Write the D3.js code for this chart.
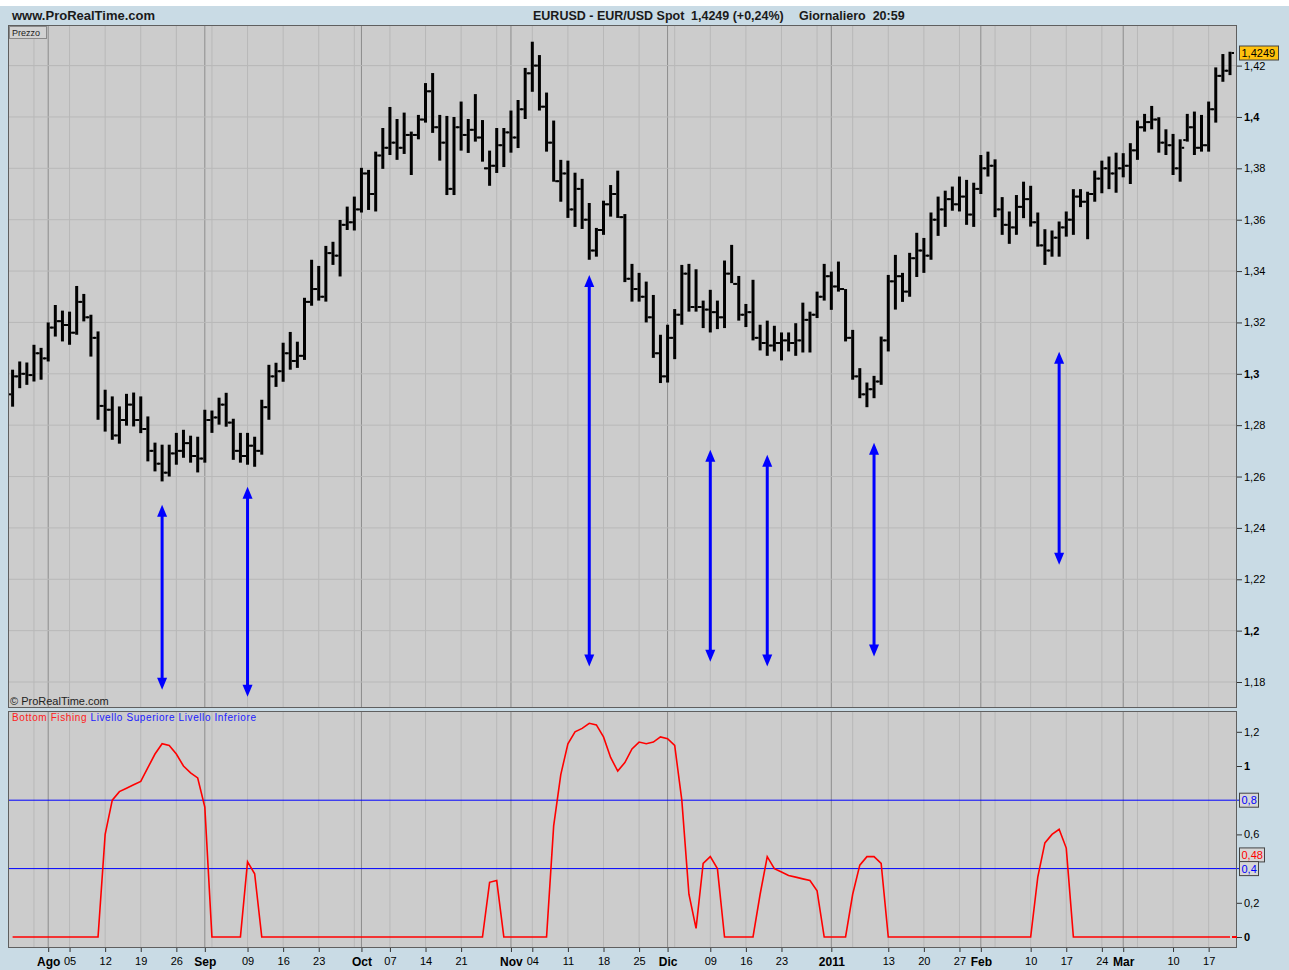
<!DOCTYPE html>
<html>
<head>
<meta charset="utf-8">
<script src="https://cdnjs.cloudflare.com/ajax/libs/d3/7.8.5/d3.min.js"></script>
<style>
  body { margin: 0; background: #c9dbe5; }
  svg { display: block; }
</style>
</head>
<body>
<script>
// EURUSD daily bars, 26 Jul 2010 -> 22 Mar 2011 (one per weekday)
const firstDay = "2010-07-26", lastDay = "2011-03-22";

const openP = [
1.2920,1.2990,1.3000,1.2995,1.3080,1.3060,1.3180,1.3205,1.3190,1.3160,
1.3280,1.3220,1.3140,1.2875,1.2860,1.2760,1.2820,1.2880,1.2820,1.2785,
1.2700,1.2650,1.2615,1.2690,1.2700,1.2730,1.2680,1.2670,1.2820,1.2830,
1.2880,1.2810,1.2700,1.2680,1.2720,1.2700,1.2870,1.2990,1.3010,1.3080,
1.3050,1.3070,1.3280,1.3330,1.3300,1.3470,1.3460,1.3580,1.3590,1.3640,
1.3780,1.3700,1.3850,1.3880,1.3900,1.3880,1.3930,1.3930,1.3990,1.4100,
1.3960,1.3900,1.3720,1.3960,1.3930,1.3950,1.3920,1.3800,1.3810,1.3890,
1.3940,1.3920,1.4030,1.4170,1.4200,1.4040,1.3900,1.3750,1.3780,1.3640,
1.3720,1.3600,1.3480,1.3560,1.3660,1.3700,1.3610,1.3370,1.3330,1.3300,
1.3220,1.3080,1.2990,1.3140,1.3230,1.3390,1.3260,1.3260,1.3250,1.3240,
1.3220,1.3390,1.3350,1.3230,1.3240,1.3140,1.3120,1.3110,1.3120,1.3130,
1.3120,1.3130,1.3210,1.3230,1.3300,1.3380,1.3340,1.3330,1.3140,1.2990,
1.2920,1.2940,1.2970,1.3130,1.3360,1.3380,1.3320,1.3450,1.3480,1.3460,
1.3600,1.3640,1.3680,1.3660,1.3690,1.3620,1.3720,1.3800,1.3810,1.3640,
1.3580,1.3570,1.3650,1.3680,1.3590,1.3500,1.3480,1.3530,1.3570,1.3600,
1.3690,1.3670,1.3700,1.3760,1.3800,1.3780,1.3800,1.3810,1.3870,1.3960,
1.3980,1.3990,1.3900,1.3890,1.3800,1.3910,1.3960,1.3880,1.3890,1.4030,
1.4160,1.4180];

const highP = [
1.3016,1.3048,1.3044,1.3113,1.3101,1.3200,1.3268,1.3246,1.3242,1.3342,
1.3311,1.3230,1.3165,1.2938,1.2912,1.2873,1.2922,1.2927,1.2912,1.2834,
1.2732,1.2724,1.2724,1.2770,1.2782,1.2759,1.2755,1.2860,1.2857,1.2907,
1.2926,1.2825,1.2770,1.2770,1.2755,1.2899,1.3035,1.3043,1.3121,1.3163,
1.3125,1.3296,1.3444,1.3420,1.3498,1.3514,1.3599,1.3651,1.3690,1.3802,
1.3794,1.3865,1.3957,1.4039,1.3992,1.4017,1.3943,1.4008,1.4132,1.4171,
1.4008,1.4004,1.4000,1.4060,1.3992,1.4089,1.3988,1.3869,1.3957,1.3957,
1.4025,1.4066,1.4191,1.4293,1.4241,1.4095,1.3986,1.3833,1.3830,1.3783,
1.3759,1.3665,1.3568,1.3674,1.3735,1.3791,1.3622,1.3428,1.3393,1.3359,
1.3307,1.3152,1.3191,1.3252,1.3424,1.3428,1.3407,1.3285,1.3327,1.3285,
1.3441,1.3502,1.3381,1.3272,1.3366,1.3191,1.3207,1.3187,1.3161,1.3161,
1.3197,1.3277,1.3242,1.3320,1.3428,1.3398,1.3437,1.3330,1.3171,1.3022,
1.2966,1.2992,1.3145,1.3385,1.3463,1.3393,1.3471,1.3549,1.3529,1.3628,
1.3690,1.3713,1.3729,1.3768,1.3755,1.3744,1.3852,1.3865,1.3835,1.3688,
1.3632,1.3696,1.3748,1.3732,1.3628,1.3563,1.3558,1.3593,1.3632,1.3719,
1.3719,1.3709,1.3791,1.3830,1.3846,1.3861,1.3859,1.3898,1.3986,1.4012,
1.4043,1.3999,1.3952,1.3934,1.3913,1.4012,1.4021,1.4008,1.4060,1.4193,
1.4245,1.4254];

const lowP = [
1.2872,1.2944,1.2957,1.2970,1.2977,1.3048,1.3145,1.3126,1.3113,1.3152,
1.3204,1.3067,1.2821,1.2775,1.2743,1.2728,1.2798,1.2795,1.2769,1.2659,
1.2620,1.2581,1.2600,1.2646,1.2673,1.2654,1.2616,1.2654,1.2770,1.2802,
1.2794,1.2665,1.2654,1.2646,1.2638,1.2685,1.2821,1.2949,1.2969,1.3016,
1.3023,1.3054,1.3265,1.3285,1.3281,1.3424,1.3379,1.3560,1.3558,1.3628,
1.3638,1.3632,1.3798,1.3852,1.3833,1.3856,1.3774,1.3913,1.3978,1.3938,
1.3830,1.3696,1.3696,1.3869,1.3860,1.3904,1.3826,1.3732,1.3782,1.3805,
1.3861,1.3879,1.3992,1.4098,1.4025,1.3865,1.3748,1.3670,1.3607,1.3572,
1.3564,1.3444,1.3456,1.3541,1.3612,1.3607,1.3357,1.3281,1.3281,1.3200,
1.3062,1.2964,1.2966,1.3057,1.3191,1.3242,1.3242,1.3178,1.3161,1.3174,
1.3178,1.3353,1.3207,1.3182,1.3130,1.3091,1.3070,1.3087,1.3052,1.3087,
1.3070,1.3083,1.3083,1.3217,1.3285,1.3249,1.3320,1.3126,1.2977,1.2905,
1.2870,1.2905,1.2957,1.3087,1.3250,1.3280,1.3300,1.3377,1.3393,1.3444,
1.3537,1.3572,1.3635,1.3632,1.3580,1.3572,1.3700,1.3768,1.3610,1.3541,
1.3506,1.3541,1.3606,1.3573,1.3495,1.3424,1.3456,1.3456,1.3534,1.3541,
1.3649,1.3524,1.3670,1.3703,1.3719,1.3705,1.3765,1.3739,1.3833,1.3943,
1.3952,1.3861,1.3852,1.3774,1.3748,1.3904,1.3852,1.3865,1.3865,1.3978,
1.4137,1.4163];

const closeP = [
1.2990,1.3000,1.2995,1.3080,1.3060,1.3180,1.3205,1.3190,1.3160,1.3280,
1.3220,1.3140,1.2875,1.2860,1.2760,1.2820,1.2880,1.2820,1.2785,1.2700,
1.2650,1.2615,1.2690,1.2700,1.2730,1.2680,1.2670,1.2820,1.2830,1.2880,
1.2810,1.2700,1.2680,1.2720,1.2700,1.2870,1.2990,1.3010,1.3080,1.3050,
1.3070,1.3280,1.3330,1.3300,1.3470,1.3460,1.3580,1.3590,1.3640,1.3780,
1.3700,1.3850,1.3880,1.3900,1.3880,1.3930,1.3930,1.3990,1.4100,1.3960,
1.3900,1.3720,1.3960,1.3930,1.3950,1.3920,1.3800,1.3810,1.3890,1.3940,
1.3920,1.4030,1.4170,1.4200,1.4040,1.3900,1.3750,1.3780,1.3640,1.3720,
1.3600,1.3480,1.3560,1.3660,1.3700,1.3610,1.3370,1.3330,1.3300,1.3220,
1.3080,1.2990,1.3140,1.3230,1.3390,1.3260,1.3260,1.3250,1.3240,1.3220,
1.3390,1.3350,1.3230,1.3240,1.3140,1.3120,1.3110,1.3120,1.3130,1.3120,
1.3130,1.3210,1.3230,1.3300,1.3380,1.3340,1.3330,1.3140,1.2990,1.2920,
1.2940,1.2970,1.3130,1.3360,1.3380,1.3320,1.3450,1.3480,1.3460,1.3600,
1.3640,1.3680,1.3660,1.3690,1.3620,1.3720,1.3800,1.3810,1.3640,1.3580,
1.3570,1.3650,1.3680,1.3590,1.3500,1.3480,1.3530,1.3570,1.3600,1.3690,
1.3670,1.3700,1.3760,1.3800,1.3780,1.3800,1.3810,1.3870,1.3960,1.3980,
1.3990,1.3900,1.3890,1.3800,1.3880,1.3960,1.3880,1.3890,1.4030,1.4160,
1.4180,1.4249];

// indicator "Bottom Fishing"
const bottomFishing = [
0,0,0,0,0,0,0,0,0,0,
0,0,0,0.60,0.80,0.85,0.87,0.89,0.91,0.99,
1.07,1.13,1.12,1.07,1.00,0.96,0.93,0.76,0,0,
0,0,0,0.44,0.37,0,0,0,0,0,
0,0,0,0,0,0,0,0,0,0,
0,0,0,0,0,0,0,0,0,0,
0,0,0,0,0,0,0,0.32,0.33,0,
0,0,0,0,0,0,0.65,0.95,1.13,1.20,
1.22,1.25,1.24,1.17,1.05,0.97,1.02,1.10,1.14,1.13,
1.14,1.17,1.16,1.12,0.80,0.25,0.05,0.43,0.47,0.40,
0,0,0,0,0,0.25,0.47,0.40,0.38,0.36,
0.35,0.34,0.33,0.27,0,0,0,0,0.25,0.42,
0.47,0.47,0.43,0,0,0,0,0,0,0,
0,0,0,0,0,0,0,0,0,0,
0,0,0,0,0.35,0.55,0.60,0.63,0.52,0,
0,0,0,0,0,0,0,0,0,0,
0,0,0,0,0,0,0,0,0,0,
0,0];
const levelUpper = 0.8, levelLower = 0.4, lastIndicator = 0.48;
const lastPrice = 1.4249;

// blue double arrows drawn on the price panel
const arrowDay = ["2010-08-24","2010-09-09","2010-11-16","2010-12-09","2010-12-21","2011-01-11","2011-02-16"];
const arrowTop = [1.2490,1.2560,1.3385,1.2704,1.2685,1.2732,1.3086];
const arrowBottom = [1.1770,1.1743,1.1860,1.1879,1.1860,1.1899,1.2257];

// axes
const priceTicks = [1.18,1.20,1.22,1.24,1.26,1.28,1.30,1.32,1.34,1.36,1.38,1.40,1.42];
const priceBold = [1.20,1.30,1.40];
const indTicks = [0,0.2,0.6,1,1.2];
const indBold = [0,1];
const monthDays = ["2010-08-02","2010-09-01","2010-10-01","2010-11-01","2010-12-01","2011-01-03","2011-02-01","2011-03-01"];
const monthLabels = ["Ago","Sep","Oct","Nov","Dic","2011","Feb","Mar"];
const dayDays = ["2010-08-05","2010-08-12","2010-08-19","2010-08-26","2010-09-09","2010-09-16","2010-09-23",
  "2010-10-07","2010-10-14","2010-10-21","2010-11-04","2010-11-11","2010-11-18","2010-11-25",
  "2010-12-09","2010-12-16","2010-12-23","2011-01-13","2011-01-20","2011-01-27",
  "2011-02-10","2011-02-17","2011-02-24","2011-03-10","2011-03-17"];
const dayLabels = ["05","12","19","26","09","16","23","07","14","21","04","11","18","25","09","16","23","13","20","27","10","17","24","10","17"];

const W = 1289, H = 970;
const P = { left: 8, right: 1237, pTop: 25, pBottom: 708, iTop: 711, iBottom: 948 };
const font = "'Liberation Sans', Arial, sans-serif";

const parse = d3.timeParse("%Y-%m-%d");
const dates = d3.timeDay.range(parse(firstDay), d3.timeDay.offset(parse(lastDay), 1))
  .filter(d => d.getDay() > 0 && d.getDay() < 6);
const idxOf = s => dates.findIndex(d => +d === +parse(s));

const x = d3.scaleLinear().domain([0, dates.length - 1]).range([12.6, 1230]);
const yP = d3.scaleLinear().domain([1.18, 1.42]).range([682, 65.6]);
const yI = d3.scaleLinear().domain([0, 1.2]).range([937, 731.8]);
const comma = d => d3.format(".2~f")(d).replace(".", ",");

const svg = d3.select("body").append("svg").attr("width", W).attr("height", H)
  .style("font-family", font);

svg.append("rect").attr("width", W).attr("height", H).attr("fill", "#c9dbe5");
svg.append("rect").attr("width", W).attr("height", 6).attr("fill", "#ffffff");

// header
svg.append("text").attr("x", 12).attr("y", 20).attr("font-size", 13).attr("font-weight", "bold")
  .attr("fill", "#1a1a1a").text("www.ProRealTime.com");
const head = svg.append("g").attr("font-size", 12.5).attr("font-weight", "bold").attr("fill", "#1a1a1a");
head.append("text").attr("x", 533).attr("y", 20).text("EURUSD - EUR/USD Spot");
head.append("text").attr("x", 691).attr("y", 20).text("1,4249 (+0,24%)");
head.append("text").attr("x", 799).attr("y", 20).attr("xml:space", "preserve").text("Giornaliero  20:59");

// panels
svg.append("rect").attr("x", P.left).attr("y", P.pTop).attr("width", P.right - P.left)
  .attr("height", P.pBottom - P.pTop).attr("fill", "#cccccc");
svg.append("rect").attr("x", P.left).attr("y", P.iTop).attr("width", P.right - P.left)
  .attr("height", P.iBottom - P.iTop).attr("fill", "#cccccc");

const thursdays = d3.range(dates.length).filter(i => dates[i].getDay() === 4);
const monthIdx = monthDays.map(idxOf);

function vGrid(y0, y1) {
  const g = svg.append("g");
  g.selectAll(".w").data(thursdays).join("line")
    .attr("x1", d => x(d)).attr("x2", d => x(d)).attr("y1", y0).attr("y2", y1)
    .attr("stroke", "#b8b8b8").attr("stroke-width", 1);
  g.selectAll(".m").data(monthIdx).join("line")
    .attr("x1", d => x(d)).attr("x2", d => x(d)).attr("y1", y0).attr("y2", y1)
    .attr("stroke", "#8c8c8c").attr("stroke-width", 1);
}
vGrid(P.pTop, P.pBottom);
vGrid(P.iTop, P.iBottom);

svg.append("g").selectAll("line").data(priceTicks).join("line")
  .attr("x1", P.left).attr("x2", P.right).attr("y1", d => yP(d)).attr("y2", d => yP(d))
  .attr("stroke", "#b8b8b8").attr("stroke-width", 1);

// OHLC bars
const bars = d3.range(dates.length).map(i => ({ i, o: openP[i], h: highP[i], l: lowP[i], c: closeP[i] }));
const gBars = svg.append("g").attr("stroke", "#000");
gBars.selectAll(".hl").data(bars).join("line")
  .attr("x1", d => x(d.i)).attr("x2", d => x(d.i))
  .attr("y1", d => yP(d.h)).attr("y2", d => yP(d.l)).attr("stroke-width", 3);
gBars.selectAll(".op").data(bars).join("line")
  .attr("x1", d => x(d.i) - 4).attr("x2", d => x(d.i) - 1.5)
  .attr("y1", d => yP(d.o)).attr("y2", d => yP(d.o)).attr("stroke-width", 2);
gBars.selectAll(".cl").data(bars).join("line")
  .attr("x1", d => x(d.i) + 1.5).attr("x2", d => x(d.i) + 4)
  .attr("y1", d => yP(d.c)).attr("y2", d => yP(d.c)).attr("stroke-width", 2);

// arrows
const arrows = arrowDay.map((d, k) => ({ i: idxOf(d), top: arrowTop[k], bot: arrowBottom[k] }));
const gArr = svg.append("g").attr("fill", "#0000ff");
gArr.selectAll("line").data(arrows).join("line")
  .attr("x1", d => x(d.i)).attr("x2", d => x(d.i))
  .attr("y1", d => yP(d.top) + 8).attr("y2", d => yP(d.bot) - 8)
  .attr("stroke", "#0000ff").attr("stroke-width", 3);
gArr.selectAll(".up").data(arrows).join("path")
  .attr("d", d => { const cx = x(d.i), t = yP(d.top); return `M${cx},${t}L${cx - 5},${t + 12}L${cx + 5},${t + 12}Z`; });
gArr.selectAll(".dn").data(arrows).join("path")
  .attr("d", d => { const cx = x(d.i), b = yP(d.bot); return `M${cx},${b}L${cx - 5},${b - 12}L${cx + 5},${b - 12}Z`; });

// indicator
[levelUpper, levelLower].forEach(v => {
  svg.append("line").attr("x1", P.left).attr("x2", 1240).attr("y1", yI(v)).attr("y2", yI(v))
    .attr("stroke", "#0000ff").attr("stroke-width", 1);
});
svg.append("path").datum(bottomFishing)
  .attr("d", d3.line().x((d, i) => x(i)).y(d => yI(d)))
  .attr("fill", "none").attr("stroke", "#ff0000").attr("stroke-width", 1.6);

const leg = svg.append("text").attr("x", 12).attr("y", 721).attr("font-size", 10)
  .attr("letter-spacing", 0.6);
leg.append("tspan").attr("fill", "#ff2020").text("Bottom Fishing ");
leg.append("tspan").attr("fill", "#2020ff").text("Livello Superiore Livello Inferiore");

// borders
[[P.pTop, P.pBottom], [P.iTop, P.iBottom]].forEach(([a, b]) => {
  svg.append("rect").attr("x", P.left + 0.5).attr("y", a + 0.5).attr("width", P.right - P.left - 1)
    .attr("height", b - a - 1).attr("fill", "none").attr("stroke", "#5f5f5f").attr("stroke-width", 1);
});

// price labels
svg.append("rect").attr("x", 9.5).attr("y", 26.5).attr("width", 37).attr("height", 12)
  .attr("fill", "#d2d2d2").attr("stroke", "#8a8a8a");
svg.append("text").attr("x", 12).attr("y", 35.5).attr("font-size", 9).attr("fill", "#222").text("Prezzo");
svg.append("text").attr("x", 10).attr("y", 705).attr("font-size", 11).attr("fill", "#222").text("© ProRealTime.com");

// right axes
function rightAxis(scale, major, bold, minor) {
  const g = svg.append("g").attr("transform", `translate(${P.right},0)`);
  g.call(d3.axisRight(scale).tickValues(minor).tickSize(3).tickFormat(""));
  g.call(d3.axisRight(scale).tickValues(major).tickSize(5).tickPadding(2).tickFormat(comma));
  g.selectAll(".domain").remove();
  g.selectAll("text").attr("font-size", 11).attr("font-family", font).attr("fill", "#000")
    .attr("font-weight", d => bold.some(b => Math.abs(b - d) < 1e-9) ? "bold" : "normal");
  g.selectAll("line").attr("stroke", "#333");
}
rightAxis(yP, priceTicks, priceBold, d3.range(1.17, 1.435, 0.01));
rightAxis(yI, indTicks, indBold, d3.range(-0.1, 1.35, 0.1));

// current value boxes
function valueBox(y, w, txt, color, fill) {
  svg.append("rect").attr("x", 1239.5).attr("y", y - 7).attr("width", w).attr("height", 14)
    .attr("fill", fill).attr("stroke", "#444");
  svg.append("text").attr("x", 1241.5).attr("y", y + 4).attr("font-size", 11).attr("fill", color).text(txt);
}
valueBox(yP(lastPrice), 39, d3.format(".4f")(lastPrice).replace(".", ","), "#000", "#ffc20e");
valueBox(yI(levelUpper), 19, comma(levelUpper), "#0000ff", "#d6d6d6");
valueBox(yI(lastIndicator), 25, comma(lastIndicator), "#ff0000", "#d6d6d6");
valueBox(yI(levelLower), 19, comma(levelLower), "#0000ff", "#d6d6d6");
const lastBF = bottomFishing[bottomFishing.length - 1];
svg.append("line").attr("x1", P.right - 5).attr("x2", P.right).attr("y1", yI(lastBF))
  .attr("y2", yI(lastBF)).attr("stroke", "#ff0000").attr("stroke-width", 2);

// bottom axis
function bottomAxis(days, labels, bold) {
  const idx = days.map(idxOf);
  const g = svg.append("g").attr("transform", `translate(0,${P.iBottom})`)
    .call(d3.axisBottom(x).tickValues(idx).tickSize(4).tickPadding(5)
      .tickFormat((d, k) => labels[k]));
  g.selectAll(".domain").remove();
  g.selectAll("line").attr("stroke", "#333");
  g.selectAll("text").attr("font-family", font).attr("fill", "#000")
    .attr("font-size", bold ? 12 : 11).attr("font-weight", bold ? "bold" : "normal");
}
bottomAxis(dayDays, dayLabels, false);
bottomAxis(monthDays, monthLabels, true);
</script>
</body>
</html>
